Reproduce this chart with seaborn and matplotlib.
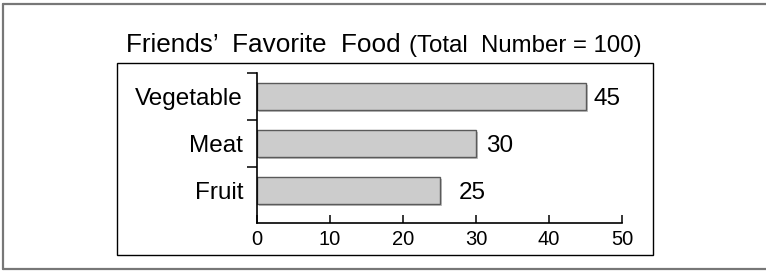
import matplotlib
matplotlib.use("Agg")
import matplotlib.pyplot as plt
import matplotlib.patheffects as pe
from matplotlib.lines import Line2D
from matplotlib.patches import Rectangle
import seaborn as sns
import pandas as pd

# data
foods = ["Vegetable", "Meat", "Fruit"]
counts = [45, 30, 25]
x_ticks = [0, 10, 20, 30, 40, 50]

df = pd.DataFrame({"food": foods, "count": counts})

sns.set_style("white")
plt.rcParams['font.family'] = ['Liberation Sans', 'DejaVu Sans']
plt.rcParams['text.color'] = 'black'
plt.rcParams['xtick.color'] = 'black'
plt.rcParams['ytick.color'] = 'black'

W, H = 766, 271
fig = plt.figure(figsize=(W / 100, H / 100), dpi=100)

def fx(px):
    return px / W

def fy(py):
    return 1 - py / H

# outer frame (grey) and inner box (black)
for xs, ys in [((3, 3), (4, 269)), ((3, 766), (4, 4)), ((3, 766), (269, 269))]:
    fig.add_artist(Line2D([fx(xs[0]), fx(xs[1])], [fy(ys[0]), fy(ys[1])],
                          color="#777777", lw=1.6, transform=fig.transFigure))
fig.add_artist(Rectangle((fx(117), fy(255)), fx(653) - fx(117), fy(63) - fy(255),
                         fill=False, edgecolor="black", lw=1.0, transform=fig.transFigure))

# title
fig.text(fx(126), fy(52), "Friends\u2019  Favorite  Food", fontsize=18.8, va="baseline", ha="left")
fig.text(fx(409), fy(52), "(Total  Number = 100)", fontsize=17.3, va="baseline", ha="left")

ax = fig.add_axes([fx(257), fy(223), fx(622) - fx(257), fy(73) - fy(223)])
sns.barplot(data=df, y="food", x="count", orient="h", color="#cccccc",
            edgecolor="#5a5a5a", linewidth=1.0, width=0.58, ax=ax, saturation=1)
for bar in ax.patches:
    bar.set_path_effects([pe.SimplePatchShadow(offset=(1.5, -1.5), shadow_rgbFace="#999999", alpha=0.6),
                          pe.Normal()])

ax.set_xlim(0, 50)
ax.set_ylim(2.7, -0.5)
ax.set_xticks(x_ticks)
ax.set_xlabel("")
ax.set_ylabel("")
ax.set_yticks([0, 1, 2])
ax.set_yticklabels(foods)
ax.set_yticks([-0.5, 0.5, 1.5], minor=True)
ax.tick_params(axis="y", which="major", left=True, length=0, pad=10, labelsize=17.5)
ax.tick_params(axis="y", which="minor", left=True, length=7, width=1.1, direction="out")
ax.tick_params(axis="x", which="major", bottom=True, length=5.5, width=1.1, direction="in", pad=5,
               labelsize=14.5)

for s in ["top", "right"]:
    ax.spines[s].set_visible(False)
for s in ["left", "bottom"]:
    ax.spines[s].set_color("black")
    ax.spines[s].set_linewidth(1.2)
ax.patch.set_alpha(0)

offsets = [6, 7, 14]
for i, v in enumerate(counts):
    ax.annotate(str(v), (v, i), xytext=(offsets[i], 0), textcoords="offset points",
                va="center_baseline", ha="left", fontsize=17.5)

fig.savefig("out.png", dpi=100)
